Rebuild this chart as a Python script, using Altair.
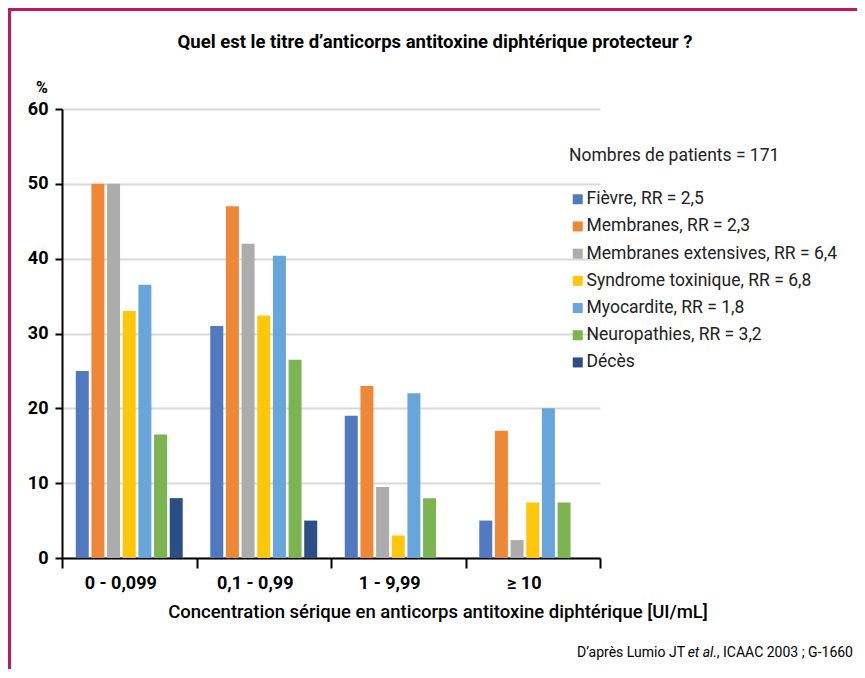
import altair as alt
import pandas as pd

categories = ["0 - 0,099", "0,1 - 0,99", "1 - 9,99", "≥ 10"]
series = [
    "Fièvre, RR = 2,5",
    "Membranes, RR = 2,3",
    "Membranes extensives, RR = 6,4",
    "Syndrome toxinique, RR = 6,8",
    "Myocardite, RR = 1,8",
    "Neuropathies, RR = 3,2",
    "Décès",
]
colors = ["#5079c0", "#ef8836", "#acacac", "#ffc60a", "#68a5da", "#7db452", "#2b4e84"]

fievre = [25, 31, 19, 5]
membranes = [50, 47, 23, 17]
membranes_ext = [50, 42, 9.5, 2.4]
syndrome = [33, 32.4, 3, 7.4]
myocardite = [36.5, 40.4, 22, 20]
neuropathies = [16.5, 26.5, 8, 7.4]
deces = [8, 5, None, None]

all_values = [fievre, membranes, membranes_ext, syndrome, myocardite, neuropathies, deces]
rows = []
for s, vals in zip(series, all_values):
    for c, v in zip(categories, vals):
        if v is not None:
            rows.append({"cat": c, "series": s, "value": v})
df = pd.DataFrame(rows)

FONT = "Roboto"
W, H = 538, 449

bars = alt.Chart(df).mark_bar().encode(
    x=alt.X("cat:N", sort=categories,
            scale=alt.Scale(domain=categories, paddingInner=0, paddingOuter=0),
            axis=alt.Axis(title=None, labelAngle=0, tickBand="extent", tickSize=10,
                          tickWidth=2, tickColor="black", domainColor="black",
                          domainWidth=2, labelFontSize=18, labelFontWeight="bold",
                          labelColor="black", labelPadding=6, grid=False,
                          labelFont=FONT, labelOffset=-9)),
    xOffset=alt.XOffset("series:N", sort=series,
                        scale=alt.Scale(domain=series, paddingInner=0.17, paddingOuter=0.88)),
    y=alt.Y("value:Q", scale=alt.Scale(domain=[0, 60], nice=False),
            axis=alt.Axis(title=None, values=[0, 10, 20, 30, 40, 50, 60],
                          tickSize=7, tickWidth=2, tickColor="black",
                          domainColor="black", domainWidth=2,
                          labelFontSize=18, labelFontWeight="bold", labelColor="black",
                          labelPadding=7, labelFont=FONT,
                          gridColor="#d9d9d9", gridWidth=2)),
    color=alt.Color("series:N", sort=series,
                    scale=alt.Scale(domain=series, range=colors),
                    legend=alt.Legend(title="Nombres de patients = 171", orient="none",
                                      legendX=507, legendY=38,
                                      titleFontSize=17.5, titleFontWeight="normal",
                                      titleFont=FONT, titleColor="#222222",
                                      titlePadding=26, titleLimit=400,
                                      labelFontSize=17.5, labelFont=FONT, labelColor="#222222",
                                      symbolType="square", symbolSize=100,
                                      symbolStrokeWidth=0, labelOffset=0,
                                      rowPadding=8.2, labelLimit=400)),
)

def txt(t, x, y, size=15, weight="normal", align="center", style="normal"):
    return alt.Chart(pd.DataFrame({"t": [t]})).mark_text(
        fontSize=size, fontWeight=weight, align=align, baseline="middle",
        font=FONT, fontStyle=style, color="black"
    ).encode(text="t:N", x=alt.value(x), y=alt.value(y))

title = txt("Quel est le titre d’anticorps antitoxine diphtérique protecteur ?", 373, -67, 18.5, "bold")
pct = txt("%", -20, -21, 16, "bold")
xtitle = txt("Concentration sérique en anticorps antitoxine diphtérique [UI/mL]", 376, 503, 18.5, 500)
src3 = txt(", ICAAC 2003 ; G-1660", 791, 544, 14, align="right")
src2 = txt("et al.", 655, 544, 14, align="right", style="italic")
src1 = txt("D’après Lumio JT", 623, 544, 14, align="right")

border_top = alt.Chart(pd.DataFrame({"a": [0]})).mark_rule(color="#c0175d", strokeWidth=3).encode(
    x=alt.value(-54), x2=alt.value(820), y=alt.value(-99.5))
border_left = alt.Chart(pd.DataFrame({"a": [0]})).mark_rule(color="#c0175d", strokeWidth=3).encode(
    x=alt.value(-52.5), y=alt.value(-101), y2=alt.value(600))

chart = alt.layer(bars, title, pct, xtitle, src1, src2, src3, border_top, border_left).properties(
    width=W, height=H,
    autosize=alt.AutoSizeParams(type="none"),
    padding={"left": 54, "top": 101, "right": 257, "bottom": 111},
).configure_view(stroke=None)

chart.save("out.html", embed_options={"renderer": "svg", "actions": False})
